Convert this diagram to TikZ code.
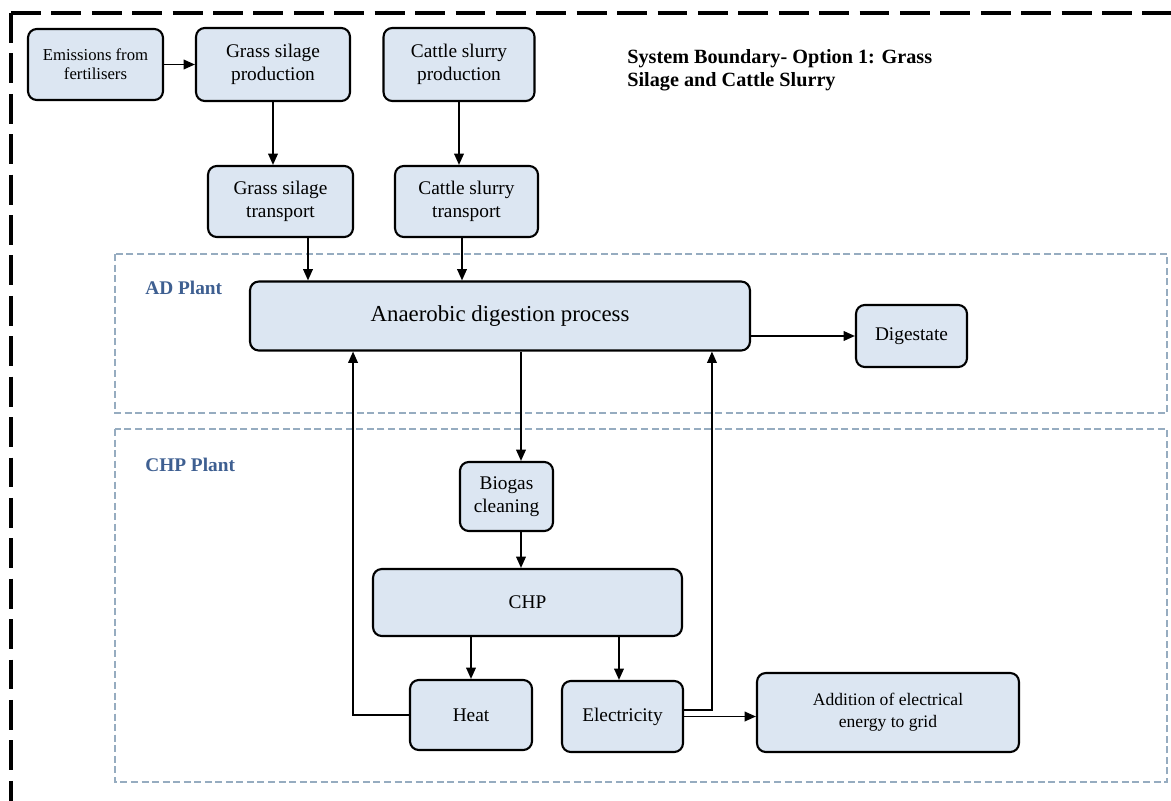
\documentclass[tikz,border=0pt]{standalone}
\usepackage{fontspec}
\setmainfont{Liberation Serif}
\usetikzlibrary{arrows.meta}
\definecolor{boxfill}{RGB}{220,230,242}
\definecolor{plantline}{RGB}{150,172,192}
\definecolor{plantblue}{RGB}{62,95,145}

\begin{document}
\begin{tikzpicture}[
  x=0.02cm, y=-0.02cm,
  box/.style={draw, line width=1.2pt, rounded corners=5pt, fill=boxfill, align=center, font=\fontsize{11}{13}\selectfont, inner sep=2pt},
  plant/.style={draw=plantline, dash pattern=on 4pt off 2pt, line width=0.6pt},
  plantlbl/.style={font=\bfseries\fontsize{11}{13}\selectfont, text=plantblue, anchor=west, inner sep=0pt},
  arr/.style={-{Triangle[length=6.5pt,width=5.5pt]}, line width=1pt}
]
\useasboundingbox (0,0) rectangle (1171,801);

% system boundary
\draw[line width=2.3pt, dash pattern=on 17pt off 6pt] (11,13) -- (1171,13);
\draw[line width=2.3pt, dash pattern=on 17pt off 6pt] (11,13) -- (11,801);
\node[font=\bfseries\fontsize{11.5}{13}\selectfont, align=left, anchor=west, inner sep=0pt] (title) at (627,70) {System Boundary- Option 1: Grass\\Silage and Cattle Slurry};

% plant areas
\draw[plant] (115,254) rectangle (1167,413);
\draw[plant] (115,429) rectangle (1167,782);
\node[plantlbl] (adlbl) at (145,288) {AD Plant};
\node[plantlbl] (chplbl) at (145,465) {CHP Plant};

% feedstock
\node[box, minimum width=2.7cm, minimum height=1.42cm, font=\fontsize{9.5}{11}\selectfont] (emis) at (95.5,64.5) {Emissions from\\fertilisers};
\node[box, minimum width=3.08cm, minimum height=1.46cm] (gsp) at (273,64.5) {Grass silage\\production};
\node[box, minimum width=3.02cm, minimum height=1.46cm] (csp) at (459,64.5) {Cattle slurry\\production};
\node[box, minimum width=2.9cm, minimum height=1.42cm] (gst) at (280.5,201.5) {Grass silage\\transport};
\node[box, minimum width=2.86cm, minimum height=1.42cm] (cst) at (466.5,201.5) {Cattle slurry\\transport};

% AD plant
\node[box, minimum width=10cm, minimum height=1.38cm, font=\fontsize{13}{15}\selectfont] (adp) at (500,316) {Anaerobic digestion process};
\node[box, minimum width=2.22cm, minimum height=1.24cm] (dig) at (911.5,336) {Digestate};

% CHP plant
\node[box, minimum width=1.86cm, minimum height=1.38cm] (bgc) at (506.5,496.5) {Biogas\\cleaning};
\node[box, minimum width=6.18cm, minimum height=1.34cm] (chp) at (527.5,602.5) {CHP};
\node[box, minimum width=2.44cm, minimum height=1.4cm] (heat) at (471,715) {Heat};
\node[box, minimum width=2.42cm, minimum height=1.42cm] (elec) at (622.5,716.5) {Electricity};
\node[box, minimum width=5.24cm, minimum height=1.58cm, font=\fontsize{10}{12.3}\selectfont] (grid) at (888,712.5) {Addition of electrical\\energy to grid};

\draw[arr] (emis) -- (gsp);
\draw[arr] (gsp) -- (gsp |- gst.north);
\draw[arr] (csp) -- (csp |- cst.north);
\draw[arr] ([xshift=0.55cm]gst.south) -- ([xshift=0.55cm]gst.south |- adp.north);
\draw[arr] ([xshift=-0.09cm]cst.south) -- ([xshift=-0.09cm]cst.south |- adp.north);
\draw[arr] (adp.east |- dig) -- (dig);
\draw[arr] ([xshift=0.42cm]adp.south) -- ([xshift=0.42cm]adp.south |- bgc.north);
\draw[arr] ([xshift=0.29cm]bgc.south) -- ([xshift=0.29cm]bgc.south |- chp.north);
\draw[arr] (chp.south -| heat) -- (heat);
\draw[arr] ([xshift=-0.07cm]chp.south -| elec) -- ([xshift=-0.07cm]elec.north);
\draw[arr] (heat.west) -| ([xshift=-2.94cm]adp.south);
\draw[arr] ([yshift=0.13cm]elec.east) -| ([xshift=4.24cm]adp.south);
\draw[arr] (elec.east) -- (elec.east -| grid.west);
\end{tikzpicture}
\end{document}
